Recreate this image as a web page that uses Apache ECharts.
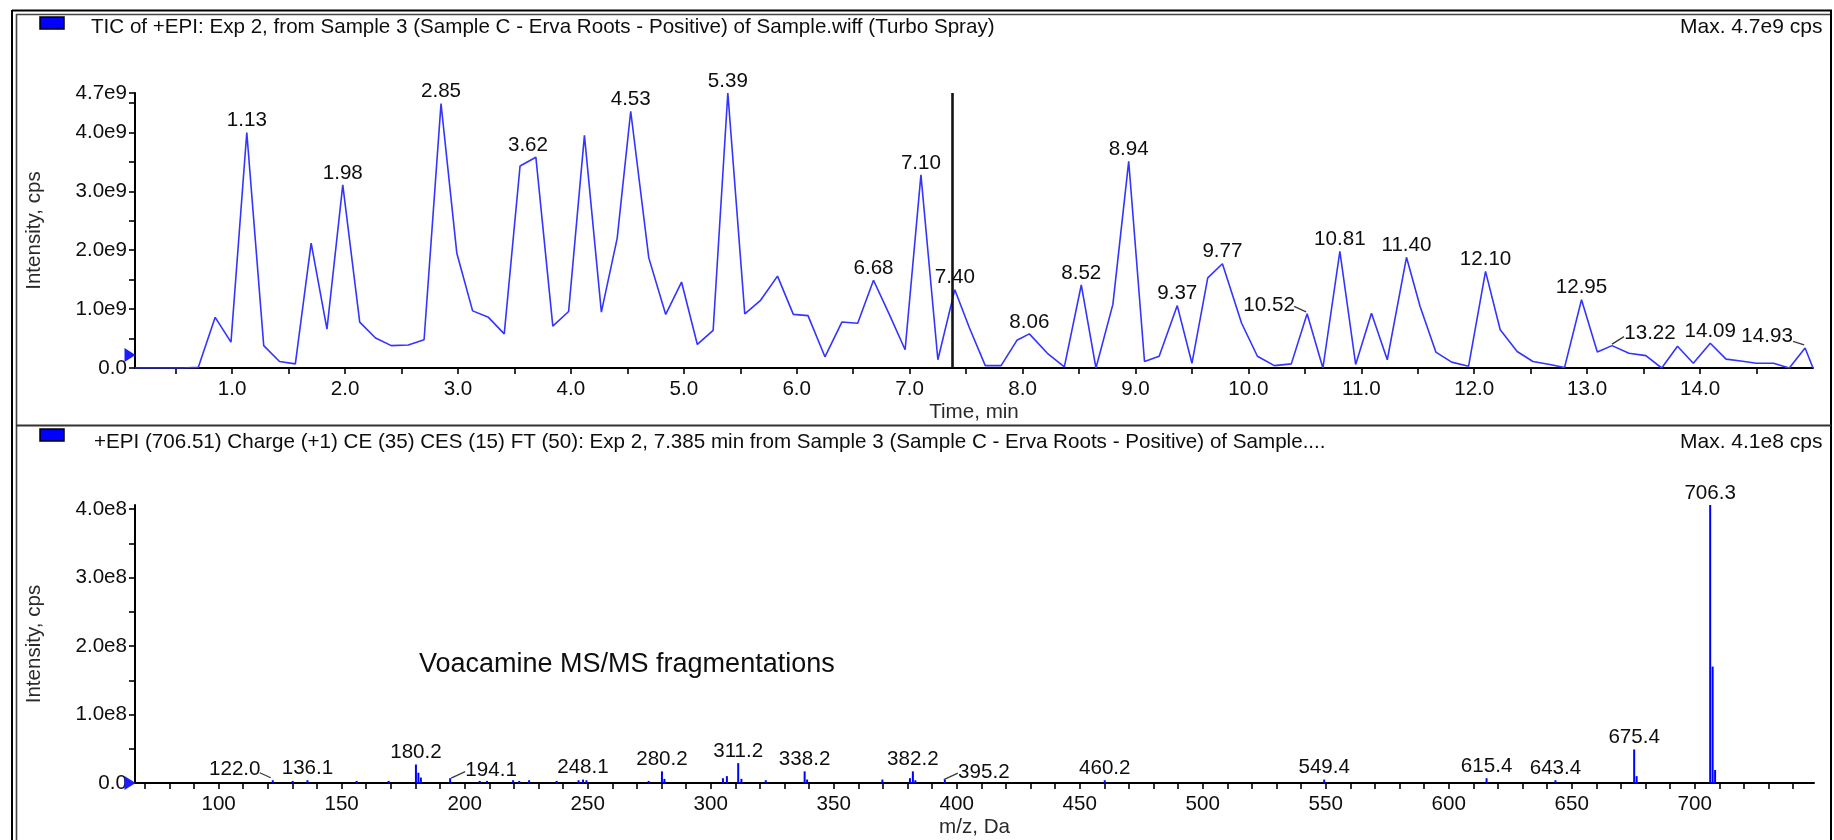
<!DOCTYPE html>
<html>
<head>
<meta charset="utf-8">
<title>TIC and MS/MS spectrum</title>
<script src="https://cdn.jsdelivr.net/npm/echarts@6/dist/echarts.min.js"></script>
<style>
  html, body { margin: 0; padding: 0; background: #fff; }
  #chart { width: 1834px; height: 840px; }
</style>
</head>
<body>
<div id="chart"></div>
<script>
// ---- Total ion chromatogram (+EPI, Exp 2) ----
// retention time, min
const ticTimes = [0.14, 0.28, 0.42, 0.56, 0.70, 0.85, 0.99, 1.13, 1.28, 1.42,
  1.56, 1.70, 1.84, 1.98, 2.13, 2.27, 2.41, 2.56, 2.70, 2.85,
  2.99, 3.13, 3.27, 3.41, 3.55, 3.69, 3.84, 3.98, 4.12, 4.27,
  4.41, 4.53, 4.69, 4.84, 4.98, 5.12, 5.26, 5.39, 5.54, 5.68,
  5.83, 5.97, 6.10, 6.25, 6.40, 6.54, 6.68, 6.82, 6.96, 7.10,
  7.25, 7.40, 7.53, 7.67, 7.81, 7.95, 8.06, 8.22, 8.37, 8.52,
  8.65, 8.80, 8.94, 9.08, 9.21, 9.37, 9.50, 9.64, 9.77, 9.94,
  10.08, 10.23, 10.38, 10.52, 10.66, 10.81, 10.95, 11.09, 11.23, 11.40,
  11.52, 11.66, 11.80, 11.95, 12.10, 12.23, 12.38, 12.52, 12.67, 12.80,
  12.95, 13.09, 13.22, 13.37, 13.52, 13.66, 13.80, 13.94, 14.09, 14.23,
  14.36, 14.50, 14.65, 14.79, 14.93, 15.00];
// intensity in units of 1e9 cps
const ticIntensityE9 = [0, 0, 0, 0, 0.01, 0.86, 0.44, 4.00, 0.38, 0.11,
  0.07, 2.12, 0.66, 3.11, 0.78, 0.51, 0.38, 0.39, 0.48, 4.49,
  1.95, 0.97, 0.86, 0.58, 3.43, 3.58, 0.71, 0.96, 3.95, 0.95,
  2.20, 4.36, 1.87, 0.91, 1.46, 0.40, 0.64, 4.67, 0.92, 1.15,
  1.56, 0.91, 0.89, 0.19, 0.78, 0.76, 1.49, 0.91, 0.31, 3.28,
  0.14, 1.33, 0.68, 0.04, 0.04, 0.47, 0.58, 0.25, 0.02, 1.41,
  0.00, 1.08, 3.51, 0.11, 0.20, 1.06, 0.08, 1.53, 1.77, 0.76,
  0.20, 0.04, 0.07, 0.92, 0.00, 1.98, 0.06, 0.93, 0.14, 1.88,
  1.05, 0.27, 0.10, 0.03, 1.64, 0.65, 0.28, 0.11, 0.06, 0.01,
  1.16, 0.27, 0.38, 0.25, 0.21, 0.00, 0.37, 0.08, 0.42, 0.15,
  0.12, 0.08, 0.08, 0.00, 0.34, 0.00];

// picked peaks: apex time (min) and apex intensity (1e9 cps)
const ticPeakTimes = [1.13, 1.98, 2.85, 3.62, 4.53, 5.39, 6.68, 7.10, 7.40, 8.06, 8.52,
  8.94, 9.37, 9.77, 10.52, 10.81, 11.40, 12.10, 12.95, 13.22, 14.09, 14.93];
const ticPeakE9 = [4.00, 3.11, 4.49, 3.58, 4.36, 4.67, 1.49, 3.28, 1.33, 0.58, 1.41,
  3.51, 1.06, 1.77, 0.92, 1.98, 1.88, 1.64, 1.16, 0.38, 0.42, 0.34];

// time of the MS/MS scan shown below
const scanTime = 7.385;
const ticMarkerE9 = 0.22;

// ---- +EPI (706.51) product ion spectrum at 7.385 min ----
const msMz = [122.0, 130.1, 136.1, 156.1, 169.1, 180.2, 181.2, 182.2, 194.1, 206.1,
  209.1, 219.7, 222.2, 226.2, 237.4, 246.3, 248.1, 249.5, 274.8, 280.2,
  281.2, 305.0, 306.6, 311.2, 312.5, 322.4, 338.2, 339.2, 369.8, 381.0,
  382.2, 383.2, 395.2, 460.2, 549.4, 615.4, 643.4, 675.4, 676.4, 706.3,
  707.3, 708.3];
// intensity in units of 1e8 cps
const msIntensityE8 = [0.04, 0.03, 0.04, 0.03, 0.03, 0.27, 0.15, 0.08, 0.07, 0.03,
  0.03, 0.04, 0.03, 0.04, 0.03, 0.04, 0.05, 0.04, 0.03, 0.17,
  0.06, 0.07, 0.10, 0.29, 0.06, 0.04, 0.17, 0.05, 0.05, 0.07,
  0.17, 0.04, 0.05, 0.04, 0.05, 0.07, 0.04, 0.49, 0.10, 4.06,
  1.70, 0.19];
// labelled fragment ions
const msPeakMz = [122.0, 136.1, 180.2, 194.1, 248.1, 280.2, 311.2, 338.2, 382.2,
  395.2, 460.2, 549.4, 615.4, 643.4, 675.4, 706.3];

// ---- axis ticks ----
const timeTicks = [0.5, 1.0, 1.5, 2.0, 2.5, 3.0, 3.5, 4.0, 4.5, 5.0, 5.5, 6.0, 6.5, 7.0,
  7.5, 8.0, 8.5, 9.0, 9.5, 10.0, 10.5, 11.0, 11.5, 12.0, 12.5, 13.0, 13.5, 14.0, 14.5];
const timeTickLabels = [1, 2, 3, 4, 5, 6, 7, 8, 9, 10, 11, 12, 13, 14];
const ticYTicksE9 = [0, 0.5, 1.0, 1.5, 2.0, 2.5, 3.0, 3.5, 4.0, 4.5, 4.67];
const ticYTickLabelsE9 = [0, 1.0, 2.0, 3.0, 4.0, 4.67];
const mzTicks = [70, 80, 90, 100, 110, 120, 130, 140, 150, 160, 170, 180, 190, 200,
  210, 220, 230, 240, 250, 260, 270, 280, 290, 300, 310, 320, 330, 340, 350, 360,
  370, 380, 390, 400, 410, 420, 430, 440, 450, 460, 470, 480, 490, 500, 510, 520,
  530, 540, 550, 560, 570, 580, 590, 600, 610, 620, 630, 640, 650, 660, 670, 680,
  690, 700, 710, 720, 730, 740];
const mzTickLabels = [100, 150, 200, 250, 300, 350, 400, 450, 500, 550, 600, 650, 700];
const msYTicksE8 = [0, 0.5, 1.0, 1.5, 2.0, 2.5, 3.0, 3.5, 4.0];
const msYTickLabelsE8 = [0, 1.0, 2.0, 3.0, 4.0];

// ---- drawing ----
const FONT = '"Liberation Sans", Arial, sans-serif';
const FS = 20.6;
const INK = '#0e0e0e';
const TRACE = '#3434ff';
const STICK = '#0000ff';

const zip = (xs, ys, k) => xs.map((x, i) => [x, ys[i] * k]);
const ticData = zip(ticTimes, ticIntensityE9, 1e9);
const ticPeaks = zip(ticPeakTimes, ticPeakE9, 1e9);
const msData = zip(msMz, msIntensityE8, 1e8);
const msPeaks = msPeakMz.map(m => [m, msIntensityE8[msMz.indexOf(m)] * 1e8]);

// labels that sit beside their peak with a short leader line (pixel offsets from the apex)
const sideLabels = {
  '10.52': { dx: -38, dy: -9, line: [[-13, -7.5], [-1, -2]] },
  '13.22': { dx: 38, dy: -12, line: [[0, -1.5], [12, -9]] },
  '14.93': { dx: -38, dy: -12, line: [[-12, -6.5], [-1, -3]] },
  '122.0': { dx: -38, dy: -11, line: [[-13, -7.5], [-2, -2.5]] },
  '194.1': { dx: 41, dy: -8, line: [[1, 0], [15, -6.5]] },
  '395.2': { dx: 39, dy: -7, line: [[-1, 0], [13, -6.5]] }
};

function peakLabelSeries(points, decimals, axisIndex) {
  return {
    type: 'custom',
    xAxisIndex: axisIndex,
    yAxisIndex: axisIndex,
    silent: true,
    clip: false,
    z: 6,
    data: points,
    renderItem(params, api) {
      const x = api.value(0);
      const p = api.coord([x, api.value(1)]);
      const text = x.toFixed(decimals);
      const side = sideLabels[text];
      const dx = side ? side.dx : 0;
      const dy = side ? side.dy : -12;
      const children = [{
        type: 'text',
        style: {
          text: text, x: p[0] + dx, y: p[1] + dy,
          font: FS + 'px ' + FONT, fill: INK,
          textAlign: 'center', textVerticalAlign: 'middle',
          align: 'center', verticalAlign: 'middle'
        }
      }];
      if (side) {
        children.push({
          type: 'polyline',
          shape: { points: side.line.map(o => [p[0] + o[0], p[1] + o[1]]) },
          style: { stroke: '#3a3a3a', lineWidth: 1.3, fill: null }
        });
      }
      return { type: 'group', children: children };
    }
  };
}

const axisLineStyle = { show: true, onZero: false, lineStyle: { color: '#000', width: 2 } };
const tickStyle = { color: '#000', width: 1.6 };
const labelStyle = { color: INK, fontSize: FS, fontFamily: FONT };
const nameStyle = { color: '#2a2a2a', fontSize: FS, fontFamily: FONT };
const sciLabel = exp => v => (v === 0 ? '0.0' : (v / Math.pow(10, exp)).toFixed(1) + 'e' + exp);

// blue arrowhead on each intensity axis
const arrowHead = 'path://M0,0 L10,6 L0,12 Z';

const text = (str, x, y, size, extra) => Object.assign({
  type: 'text', z: 50, silent: true,
  style: {
    text: str, x: x, y: y, font: size + 'px ' + FONT, fill: INK,
    textVerticalAlign: 'middle', verticalAlign: 'middle'
  }
}, extra || {});
const hline = (x1, x2, y, w, c) => ({ type: 'line', z: 60, silent: true,
  shape: { x1: x1, y1: y, x2: x2, y2: y }, style: { stroke: c || '#000', lineWidth: w } });
const vline = (x, y1, y2, w, c) => ({ type: 'line', z: 60, silent: true,
  shape: { x1: x, y1: y1, x2: x, y2: y2 }, style: { stroke: c || '#000', lineWidth: w } });
const swatch = (y) => ({ type: 'rect', z: 55, silent: true,
  shape: { x: 40, y: y, width: 24, height: 12 },
  style: { fill: '#0000ff', stroke: '#000', lineWidth: 1.5 } });

const option = {
  animation: false,
  backgroundColor: '#fff',
  textStyle: { fontFamily: FONT },
  grid: [
    { left: 135, right: 21, top: 93, height: 275, outerBoundsMode: 'none', containLabel: false },
    { left: 135, right: 20, top: 505, height: 278, outerBoundsMode: 'none', containLabel: false }
  ],
  xAxis: [
    {
      type: 'value', gridIndex: 0, min: 0.14, max: 15,
      axisLine: axisLineStyle,
      axisTick: { show: true, length: 6, lineStyle: tickStyle, customValues: timeTicks },
      axisLabel: Object.assign({ margin: 11, customValues: timeTickLabels,
        formatter: v => v.toFixed(1) }, labelStyle),
      splitLine: { show: false },
      name: 'Time, min', nameLocation: 'middle', nameGap: 34, nameTextStyle: nameStyle
    },
    {
      type: 'value', gridIndex: 1, min: 66, max: 748.5,
      axisLine: axisLineStyle,
      axisTick: { show: true, length: 6, lineStyle: tickStyle, customValues: mzTicks },
      axisLabel: Object.assign({ margin: 11, customValues: mzTickLabels,
        formatter: v => String(Math.round(v)) }, labelStyle),
      splitLine: { show: false },
      name: 'm/z, Da', nameLocation: 'middle', nameGap: 34, nameTextStyle: nameStyle
    }
  ],
  yAxis: [
    {
      type: 'value', gridIndex: 0, min: 0, max: 4.67e9,
      axisLine: axisLineStyle,
      axisTick: { show: true, length: 6, lineStyle: tickStyle,
        customValues: ticYTicksE9.map(v => v * 1e9) },
      axisLabel: Object.assign({ margin: 8, customValues: ticYTickLabelsE9.map(v => v * 1e9),
        formatter: sciLabel(9) }, labelStyle),
      splitLine: { show: false },
      name: 'Intensity, cps', nameLocation: 'middle', nameGap: 90, nameRotate: 90,
      nameTextStyle: nameStyle
    },
    {
      type: 'value', gridIndex: 1, min: 0, max: 4.06e8,
      axisLine: axisLineStyle,
      axisTick: { show: true, length: 6, lineStyle: tickStyle,
        customValues: msYTicksE8.map(v => v * 1e8) },
      axisLabel: Object.assign({ margin: 8, customValues: msYTickLabelsE8.map(v => v * 1e8),
        formatter: sciLabel(8) }, labelStyle),
      splitLine: { show: false },
      name: 'Intensity, cps', nameLocation: 'middle', nameGap: 90, nameRotate: 90,
      nameTextStyle: nameStyle
    }
  ],
  series: [
    {
      type: 'line', xAxisIndex: 0, yAxisIndex: 0, data: ticData,
      showSymbol: false, symbol: 'none', smooth: false, silent: true, z: 3,
      lineStyle: { color: TRACE, width: 1.6 },
      markLine: {
        silent: true, symbol: ['none', 'none'], label: { show: false },
        lineStyle: { color: '#141414', width: 2.6, type: 'solid' },
        data: [{ xAxis: scanTime }]
      },
      markPoint: {
        silent: true, symbol: arrowHead, symbolSize: [11, 14], symbolOffset: [-5, 0],
        itemStyle: { color: '#1c1cff' }, label: { show: false },
        data: [{ coord: [0.14, ticMarkerE9 * 1e9] }]
      }
    },
    peakLabelSeries(ticPeaks, 2, 0),
    {
      type: 'bar', xAxisIndex: 1, yAxisIndex: 1, data: msData,
      barWidth: 2, silent: true, z: 3,
      itemStyle: { color: STICK },
      markPoint: {
        silent: true, symbol: arrowHead, symbolSize: [11, 14], symbolOffset: [-5, 0],
        itemStyle: { color: '#1c1cff' }, label: { show: false },
        data: [{ coord: [66, 0] }]
      }
    },
    peakLabelSeries(msPeaks, 1, 1)
  ],
  graphic: [
    // panel frame
    vline(12, 10, 840, 2), vline(16.5, 14, 840, 1.6, '#444'),
    hline(12, 1832, 10.5, 2), hline(16, 1832, 14.5, 1.6, '#444'),
    vline(1831, 10, 840, 2),
    hline(16, 1831, 425.5, 2.2, '#333'),
    // headers
    swatch(17), swatch(429),
    text('TIC of +EPI: Exp 2, from Sample 3 (Sample C - Erva Roots - Positive) of Sample.wiff (Turbo Spray)', 91, 27, FS),
    text('Max. 4.7e9 cps', 1680, 27, 21),
    text('+EPI (706.51) Charge (+1) CE (35) CES (15) FT (50): Exp 2, 7.385 min from Sample 3 (Sample C - Erva Roots - Positive) of Sample....', 94, 442, FS),
    text('Max. 4.1e8 cps', 1680, 442, 21),
    text('Voacamine MS/MS fragmentations', 419, 665, 27)
  ]
};

const chart = echarts.init(document.getElementById('chart'));
chart.setOption(option);
</script>
</body>
</html>
